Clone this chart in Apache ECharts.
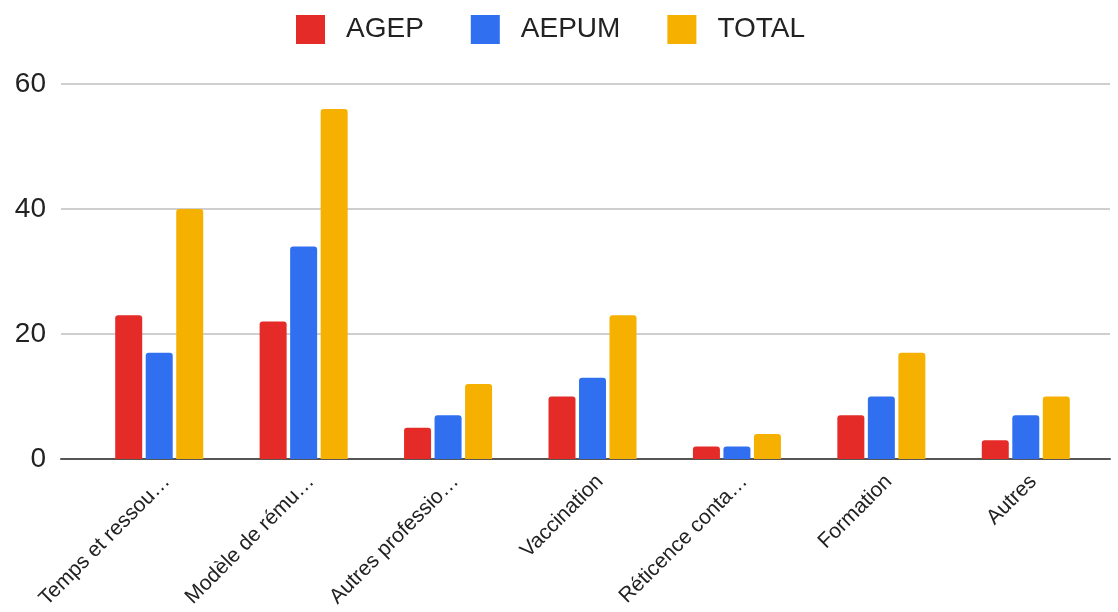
<!DOCTYPE html>
<html>
<head>
<meta charset="utf-8">
<script src="https://cdn.jsdelivr.net/npm/echarts@6/dist/echarts.min.js"></script>
<style>
html,body{margin:0;padding:0;background:#fff;}
#chart{width:1118px;height:612px;}
</style>
</head>
<body>
<div id="chart"></div>
<script>
const categories = ["Temps et ressou…", "Modèle de rému…", "Autres professio…", "Vaccination", "Réticence conta…", "Formation", "Autres"];
const seriesNames = ["AGEP", "AEPUM", "TOTAL"];
const agep = [23, 22, 5, 10, 2, 7, 3];
const aepum = [17, 34, 7, 13, 2, 10, 7];
const total = [40, 56, 12, 23, 4, 17, 10];
const yTicks = [0, 20, 40, 60];
const colors = ["#e52b27", "#3070f0", "#f5b000"];

const FONT = "'Liberation Sans', Arial, sans-serif";
const chart = echarts.init(document.getElementById('chart'), null, {renderer: 'canvas'});

function bar(name, data, color) {
  return {
    name: name, type: 'bar', xAxisIndex: 1, yAxisIndex: 1, data: data,
    barWidth: 27, barGap: '13%',
    itemStyle: {color: color, borderRadius: [3, 3, 0, 0]},
    emphasis: {disabled: true}
  };
}

chart.setOption({
  animation: false,
  color: colors,
  textStyle: {fontFamily: FONT},
  legend: {
    top: 10, left: 291,
    itemWidth: 29, itemHeight: 29, itemGap: 47,
    icon: 'rect',
    data: seriesNames,
    textStyle: {fontSize: 28, color: '#222', fontFamily: FONT, padding: [0, 0, 0, 16]}
  },
  grid: [
    {left: 61, right: 8, top: 84, bottom: 153},
    {left: 87, right: 20, top: 84, bottom: 153}
  ],
  xAxis: [
    {type: 'value', gridIndex: 0, min: 0, max: 1, show: true,
     axisLine: {show: true, onZero: false, lineStyle: {color: '#555', width: 2}},
     axisTick: {show: false}, axisLabel: {show: false}, splitLine: {show: false}},
    {type: 'category', gridIndex: 1, data: categories,
     axisLine: {show: false}, axisTick: {show: false},
     axisLabel: {rotate: 45, interval: 0, fontSize: 21, color: '#222', fontFamily: FONT, margin: 12, verticalAlign: 'top'}}
  ],
  yAxis: [
    {type: 'value', gridIndex: 0, min: yTicks[0], max: yTicks[yTicks.length - 1], interval: 20,
     axisLine: {show: false}, axisTick: {show: false},
     axisLabel: {fontSize: 28, color: '#222', fontFamily: FONT, margin: 15},
     splitLine: {lineStyle: {color: '#cfcfcf', width: 2}}},
    {type: 'value', gridIndex: 1, min: yTicks[0], max: yTicks[yTicks.length - 1], interval: 20, show: false,
     splitLine: {show: false}}
  ],
  series: [
    bar(seriesNames[0], agep, colors[0]),
    bar(seriesNames[1], aepum, colors[1]),
    bar(seriesNames[2], total, colors[2])
  ]
});
</script>
</body>
</html>
